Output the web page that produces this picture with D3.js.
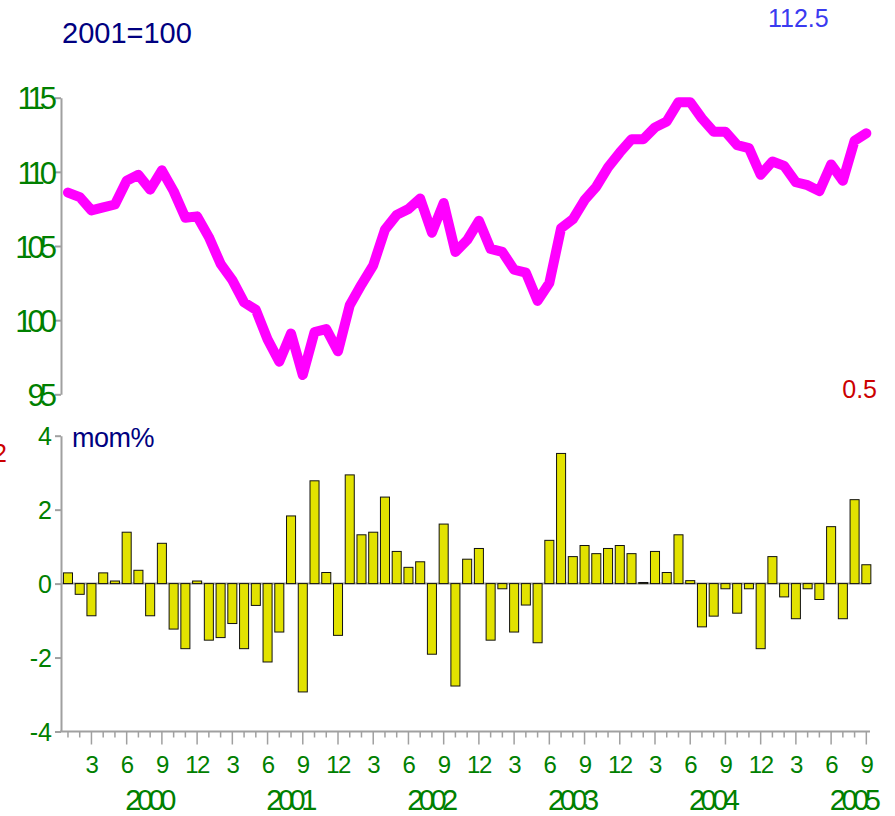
<!DOCTYPE html>
<html lang="en">
<head>
    <meta charset="UTF-8">
    <title>Index and mom%</title>
    <script src="https://d3js.org/d3.v7.min.js"></script>
    <style>
        body { margin: 0; background: #fff; }
        text { font-family: "Liberation Sans", Arial, sans-serif; }
    </style>
</head>
<body>
    <script>
        // index level, 2001=100, Jan 2000 .. Sep 2005
        var indexValues = [
            108.6, 108.3, 107.4, 107.6, 107.8, 109.4, 109.8, 108.8, 110.1, 108.7, 106.9, 107.0,
            105.6, 103.8, 102.7, 101.2, 100.7, 98.7, 97.2, 99.1, 96.3, 99.2, 99.4, 97.9,
            101.0, 102.4, 103.7, 106.1, 107.1, 107.5, 108.2, 105.9, 107.9, 104.6, 105.4, 106.7,
            104.8, 104.6, 103.4, 103.2, 101.3, 102.5, 106.2, 106.8, 108.1, 109.0, 110.3, 111.3,
            112.2, 112.2, 113.0, 113.4, 114.7, 114.7, 113.6, 112.7, 112.7, 111.8, 111.6, 109.8,
            110.7, 110.4, 109.3, 109.1, 108.7, 110.5, 109.4, 112.1, 112.6
        ];
        // month on month change, %
        var momValues = [
            0.29, -0.29, -0.87, 0.29, 0.07, 1.39, 0.36, -0.87, 1.09, -1.23, -1.76, 0.07,
            -1.53, -1.46, -1.08, -1.76, -0.59, -2.12, -1.31, 1.83, -2.93, 2.78, 0.30, -1.40,
            2.94, 1.32, 1.39, 2.34, 0.87, 0.44, 0.59, -1.91, 1.61, -2.77, 0.66, 0.95,
            -1.53, -0.14, -1.31, -0.58, -1.60, 1.17, 3.52, 0.73, 1.03, 0.81, 0.95, 1.03,
            0.81, 0.03, 0.87, 0.30, 1.32, 0.08, -1.17, -0.88, -0.14, -0.80, -0.14, -1.76,
            0.73, -0.36, -0.95, -0.14, -0.43, 1.54, -0.95, 2.27, 0.51
        ];
        var months = d3.range(indexValues.length);           // 0 = Jan 2000
        var monthLabels = ["3", "6", "9", "12"];
        var years = ["2000", "2001", "2002", "2003", "2004", "2005"];
        var topTicks = [95, 100, 105, 110, 115];
        var bottomTicks = [-4, -2, 0, 2, 4];

        var w = 895, h = 816;
        var axisColor = "#a0a0a0";
        var green = "#008000";

        var svg = d3.select("body").append("svg")
                    .attr("width", w)
                    .attr("height", h);

        // x scale: one band per month
        var x = d3.scaleBand()
                  .domain(months)
                  .range([62.1, 872.2])
                  .paddingInner(0.23)
                  .paddingOuter(0.115);
        var xc = (i) => x(i) + x.bandwidth() / 2;

        var yTop = d3.scaleLinear().domain([95, 115]).range([394.3, 97.7]);
        var yBot = d3.scaleLinear().domain([-4, 4]).range([731.5, 435.7]);

        // ---- top panel: index line
        var gTopAxis = svg.append("g")
            .attr("transform", "translate(61,0)")
            .call(d3.axisLeft(yTop).tickValues(topTicks).tickSize(6).tickSizeOuter(0).tickPadding(3)
                  .tickFormat((d) => String(d)));
        gTopAxis.selectAll("path, line").attr("stroke", axisColor).attr("stroke-width", 2);
        gTopAxis.selectAll("text")
            .attr("fill", green)
            .style("font-size", "31px")
            .style("letter-spacing", "-5px")
            .attr("dy", "0.36em");

        var line = d3.line()
                     .x((d, i) => xc(i))
                     .y((d) => yTop(d));
        svg.append("path")
           .datum(indexValues)
           .attr("d", line)
           .attr("fill", "none")
           .attr("stroke", "#ff00ff")
           .attr("stroke-width", 10)
           .attr("stroke-linejoin", "round")
           .attr("stroke-linecap", "round");

        // ---- bottom panel: mom% bars
        svg.append("line")
           .attr("x1", 61).attr("x2", 870)
           .attr("y1", yBot(0)).attr("y2", yBot(0))
           .attr("stroke", axisColor).attr("stroke-width", 2);

        svg.selectAll("rect.bar")
           .data(momValues)
           .join("rect")
           .attr("class", "bar")
           .attr("x", (d, i) => x(i))
           .attr("y", (d) => yBot(Math.max(0, d)))
           .attr("width", x.bandwidth())
           .attr("height", (d) => Math.abs(yBot(d) - yBot(0)))
           .attr("fill", "#e2e200")
           .attr("stroke", "#111")
           .attr("stroke-width", 1);

        var gBotAxis = svg.append("g")
            .attr("transform", "translate(61,0)")
            .call(d3.axisLeft(yBot).tickValues(bottomTicks).tickSize(6).tickSizeOuter(0).tickPadding(3)
                  .tickFormat((d) => String(d)));
        gBotAxis.selectAll("path, line").attr("stroke", axisColor).attr("stroke-width", 2);
        gBotAxis.selectAll("text")
            .attr("fill", green)
            .style("font-size", "25px")
            .attr("dy", "0.36em");

        // x axis: minor tick every month, long tick every quarter
        svg.append("line")
           .attr("x1", 60).attr("x2", 870)
           .attr("y1", 731.5).attr("y2", 731.5)
           .attr("stroke", axisColor).attr("stroke-width", 2);

        var gMinor = svg.append("g")
            .attr("transform", "translate(0,731.5)")
            .call(d3.axisBottom(x).tickValues(months.filter((i) => (i + 1) % 3 != 0))
                  .tickSize(6).tickFormat(""));
        gMinor.select(".domain").remove();
        gMinor.selectAll("line").attr("stroke", axisColor).attr("stroke-width", 1.5);

        var gMajor = svg.append("g")
            .attr("transform", "translate(0,731.5)")
            .call(d3.axisBottom(x).tickValues(months.filter((i) => (i + 1) % 3 == 0))
                  .tickSize(13).tickPadding(11)
                  .tickFormat((i) => monthLabels[((i + 1) / 3 - 1) % 4]));
        gMajor.select(".domain").remove();
        gMajor.selectAll("line").attr("stroke", axisColor).attr("stroke-width", 1.5);
        gMajor.selectAll("text")
            .attr("fill", green)
            .style("font-size", "24px")
            .style("letter-spacing", "-1.5px");

        var xl = d3.scaleLinear().domain([0, months.length - 1]).range([xc(0), xc(months.length - 1)]);
        svg.selectAll("text.year")
           .data(years)
           .join("text")
           .attr("class", "year")
           .attr("x", (d, i) => xl(Math.min(6.7 + 12 * i, 67.5)) + 2)
           .attr("y", 810)
           .attr("text-anchor", "middle")
           .attr("fill", green)
           .style("font-size", "29px")
           .style("letter-spacing", "-4.5px")
           .text((d) => d);

        // ---- titles and side labels
        svg.append("text").attr("x", 62).attr("y", 43)
           .attr("fill", "#000080").style("font-size", "29px").text("2001=100");
        svg.append("text").attr("x", 72).attr("y", 447)
           .attr("fill", "#000080").style("font-size", "27px").style("letter-spacing", "-0.5px").text("mom%");
        svg.append("text").attr("x", 768).attr("y", 27)
           .attr("fill", "#3a3af0").style("font-size", "25px").text("112.5");
        svg.append("text").attr("x", 877).attr("y", 398).attr("text-anchor", "end")
           .attr("fill", "#cc0000").style("font-size", "25px").text("0.5");
        // partly outside the left edge, as in the reference
        svg.append("text").attr("x", 7).attr("y", 462).attr("text-anchor", "end")
           .attr("fill", "#cc0000").style("font-size", "25px").text("2");
    </script>
</body>
</html>
